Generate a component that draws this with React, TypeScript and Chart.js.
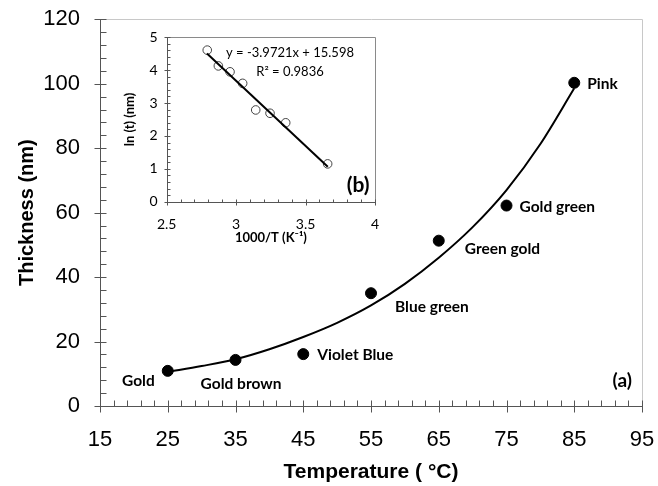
import React, { useEffect, useRef } from 'react';
import { Chart, registerables } from 'chart.js';
Chart.register(...registerables);

// ---- main chart data ----
const temperatures = [25, 35, 45, 55, 65, 75, 85];
const thickness = [10.9, 14.3, 16.1, 35.0, 51.3, 62.2, 100.3];
const colourNames = ['Gold', 'Gold brown', 'Violet Blue', 'Blue green', 'Green gold', 'Gold green', 'Pink'];
const fitTemps = [25, 30, 35, 40, 45, 50, 55, 60, 65, 70, 75, 80, 85];
const fitThickness = [10.6, 12.4, 14.5, 17.6, 21.4, 25.8, 31.2, 37.9, 46.0, 55.5, 67.0, 81.3, 98.6];
const xTickValues = [15, 25, 35, 45, 55, 65, 75, 85, 95];
const yTickValues = [0, 20, 40, 60, 80, 100, 120];

// ---- inset data ----
const invT = [2.792, 2.872, 2.956, 3.047, 3.141, 3.244, 3.357, 3.659];
const lnT = [4.61, 4.13, 3.95, 3.6, 2.79, 2.69, 2.4, 1.15];
const fitInvT = [2.79, 3.66];
const fitLnT = [4.51, 1.06];
const insetXTicks = [2.5, 3, 3.5, 4];
const insetYTicks = [0, 1, 2, 3, 4, 5];
const equationText = 'y = -3.9721x + 15.598';
const r2Text = 'R\u00B2 = 0.9836';

// label placement (styles, not data)
const labelOffsets = [
  { dx: -13, dy: 10, align: 'right' },
  { dx: 5.5, dy: 24, align: 'center' },
  { dx: 14, dy: 1, align: 'left' },
  { dx: 24, dy: 14, align: 'left' },
  { dx: 26, dy: 8, align: 'left' },
  { dx: 13, dy: 1, align: 'left' },
  { dx: 13, dy: 1, align: 'left' },
];

type AxOpts = {
  xMajor: number[]; yMajor: number[]; xMinorStep: number; yMinorStep: number;
  majorIn: number; majorOut: number; minorIn: number; axisColor: string; frameColor: string;
};

function makeAxesPlugin(o: AxOpts) {
  return {
    id: 'axesFrame',
    beforeDatasetsDraw(chart: any) {
      const { ctx, chartArea: a, scales } = chart;
      const xs = scales.x, ys = scales.y;
      ctx.save();
      ctx.lineWidth = 1;
      ctx.strokeStyle = o.frameColor;
      ctx.beginPath();
      ctx.moveTo(a.left, Math.round(a.top) + 0.5);
      ctx.lineTo(Math.round(a.right) + 0.5, Math.round(a.top) + 0.5);
      ctx.lineTo(Math.round(a.right) + 0.5, a.bottom);
      ctx.stroke();
      ctx.strokeStyle = o.axisColor;
      ctx.beginPath();
      const L = Math.round(a.left) + 0.5;
      const B = Math.round(a.bottom) + 0.5;
      ctx.moveTo(L, a.top);
      ctx.lineTo(L, B);
      ctx.lineTo(a.right + 1, B);
      const isMajor = (arr: number[], v: number) => arr.some((m) => Math.abs(m - v) < 1e-6);
      for (const v of o.xMajor) {
        const px = Math.round(xs.getPixelForValue(v)) + 0.5;
        ctx.moveTo(px, B - o.majorIn);
        ctx.lineTo(px, B + o.majorOut);
      }
      const nx = Math.round((xs.max - xs.min) / o.xMinorStep);
      for (let i = 0; i <= nx; i++) {
        const v = xs.min + i * o.xMinorStep;
        if (isMajor(o.xMajor, v)) continue;
        const px = Math.round(xs.getPixelForValue(v)) + 0.5;
        ctx.moveTo(px, B);
        ctx.lineTo(px, B - o.minorIn);
      }
      for (const v of o.yMajor) {
        const py = Math.round(ys.getPixelForValue(v)) + 0.5;
        ctx.moveTo(L - o.majorOut, py);
        ctx.lineTo(L + o.majorIn, py);
      }
      const ny = Math.round((ys.max - ys.min) / o.yMinorStep);
      for (let i = 0; i <= ny; i++) {
        const v = ys.min + i * o.yMinorStep;
        if (isMajor(o.yMajor, v)) continue;
        const py = Math.round(ys.getPixelForValue(v)) + 0.5;
        ctx.moveTo(L, py);
        ctx.lineTo(L + o.minorIn, py);
      }
      ctx.stroke();
      ctx.restore();
    },
  };
}

const mainLabelPlugin = {
  id: 'mainLabels',
  afterDatasetsDraw(chart: any) {
    const { ctx, chartArea: a } = chart;
    const meta = chart.getDatasetMeta(1);
    ctx.save();
    ctx.fillStyle = '#000';
    ctx.textBaseline = 'middle';
    ctx.font = 'bold 15.5px Lato';
    meta.data.forEach((el: any, i: number) => {
      const off = labelOffsets[i];
      ctx.textAlign = off.align;
      ctx.fillText(colourNames[i], el.x + off.dx, el.y + off.dy);
    });
    ctx.font = 'bold 19px Lato';
    ctx.textAlign = 'right';
    ctx.fillText('(a)', a.right - 10, a.bottom - 25);
    ctx.restore();
  },
};

const insetLabelPlugin = {
  id: 'insetLabels',
  beforeDraw(chart: any) {
    const { ctx, width, height } = chart;
    ctx.save();
    ctx.fillStyle = '#fff';
    ctx.fillRect(0, 0, width, height);
    ctx.restore();
  },
  afterDatasetsDraw(chart: any) {
    const { ctx, chartArea: a } = chart;
    ctx.save();
    ctx.fillStyle = '#000';
    ctx.textBaseline = 'middle';
    ctx.textAlign = 'center';
    ctx.font = '13px Lato';
    ctx.fillText(equationText, a.left + 123.3, a.top + 15.7);
    ctx.fillText(r2Text, a.left + 123.3, a.top + 34.7);
    ctx.font = 'bold 21px Lato';
    ctx.textAlign = 'right';
    ctx.fillText('(b)', a.right - 5.5, a.bottom - 16.7);
    ctx.restore();
  },
};

export default function App() {
  const mainRef = useRef<HTMLCanvasElement>(null);
  const insetRef = useRef<HTMLCanvasElement>(null);

  useEffect(() => {
    const tickFont = { family: 'Liberation Sans, Arial, sans-serif', size: 22 };
    const yTitleFont = { family: 'Liberation Sans, Arial, sans-serif', size: 20, weight: 'bold' as const, lineHeight: 1.2 };
    const xTitleFont = { family: 'Liberation Sans, Arial, sans-serif', size: 21, weight: 'bold' as const, lineHeight: 1.2 };
    const main = new Chart(mainRef.current!, {
      type: 'scatter',
      data: {
        datasets: [
          {
            type: 'line',
            data: fitTemps.map((t, i) => ({ x: t, y: fitThickness[i] })),
            borderColor: '#000',
            borderWidth: 2,
            pointRadius: 0,
            cubicInterpolationMode: 'monotone',
            fill: false,
          } as any,
          {
            type: 'scatter',
            data: temperatures.map((t, i) => ({ x: t, y: thickness[i] })),
            backgroundColor: '#000',
            borderColor: '#000',
            pointRadius: 5.5,
          },
        ],
      },
      options: {
        animation: false,
        responsive: false,
        devicePixelRatio: 1,
        layout: { padding: { left: 0, top: 19.3, right: 16, bottom: 0 } },
        plugins: { legend: { display: false }, tooltip: { enabled: false } },
        scales: {
          x: {
            type: 'linear',
            min: 15,
            max: 95,
            afterBuildTicks: (s: any) => { s.ticks = xTickValues.map((v) => ({ value: v })); },
            afterFit: (s: any) => { s.height = 80; },
            ticks: { font: tickFont, color: '#000', padding: 0, maxRotation: 0 },
            grid: { display: false, drawTicks: true, tickLength: 21 },
            border: { display: false },
            title: { display: true, text: 'Temperature ( \u00B0C)', font: xTitleFont, color: '#000', padding: { top: 0, bottom: 1 } },
          },
          y: {
            type: 'linear',
            min: 0,
            max: 120,
            afterBuildTicks: (s: any) => { s.ticks = yTickValues.map((v) => ({ value: v })); },
            afterFit: (s: any) => { s.width = 100; },
            ticks: { font: tickFont, color: '#000', padding: 0 },
            grid: { display: false, drawTicks: true, tickLength: 20 },
            border: { display: false },
            title: { display: true, text: 'Thickness (nm)', font: yTitleFont, color: '#000', padding: { top: 15, bottom: 0 } },
          },
        },
      },
      plugins: [
        makeAxesPlugin({ xMajor: xTickValues, yMajor: yTickValues, xMinorStep: 2, yMinorStep: 4, majorIn: 6, majorOut: 6, minorIn: 6, axisColor: '#555', frameColor: '#c8c8c8' }),
        mainLabelPlugin,
      ],
    } as any);

    const iTickFont = { family: 'Lato, sans-serif', size: 14 };
    const iTitleFont = { family: 'Lato, sans-serif', size: 13, weight: 'bold' as const, lineHeight: 1.2 };
    const inset = new Chart(insetRef.current!, {
      type: 'scatter',
      data: {
        datasets: [
          {
            type: 'line',
            data: fitInvT.map((v, i) => ({ x: v, y: fitLnT[i] })),
            borderColor: '#000',
            borderWidth: 2,
            pointRadius: 0,
            fill: false,
          } as any,
          {
            type: 'scatter',
            data: invT.map((v, i) => ({ x: v, y: lnT[i] })),
            backgroundColor: 'rgba(255,255,255,0)',
            borderColor: '#444',
            borderWidth: 1,
            pointRadius: 4.3,
          },
        ],
      },
      options: {
        animation: false,
        responsive: false,
        devicePixelRatio: 1,
        layout: { padding: { left: 0, top: 9.3, right: 8, bottom: 0 } },
        plugins: { legend: { display: false }, tooltip: { enabled: false } },
        scales: {
          x: {
            type: 'linear',
            min: 2.5,
            max: 4,
            afterBuildTicks: (s: any) => { s.ticks = insetXTicks.map((v) => ({ value: v })); },
            afterFit: (s: any) => { s.height = 48.3; },
            ticks: { font: iTickFont, color: '#000', padding: 0, maxRotation: 0, callback: (v: any) => String(v) },
            grid: { display: false, drawTicks: true, tickLength: 14 },
            border: { display: false },
            title: { display: true, text: '1000/T (K\u207B\u00B9)', font: iTitleFont, color: '#000', padding: { top: 0, bottom: 4 } },
          },
          y: {
            type: 'linear',
            min: 0,
            max: 5,
            afterBuildTicks: (s: any) => { s.ticks = insetYTicks.map((v) => ({ value: v })); },
            afterFit: (s: any) => { s.width = 48.7; },
            ticks: { font: iTickFont, color: '#000', padding: 0, callback: (v: any) => String(v) },
            grid: { display: false, drawTicks: true, tickLength: 9 },
            border: { display: false },
            title: { display: true, text: 'ln (t) (nm)', font: iTitleFont, color: '#000', padding: { top: 4.2, bottom: 0 } },
          },
        },
      },
      plugins: [
        insetLabelPlugin,
        makeAxesPlugin({ xMajor: insetXTicks, yMajor: insetYTicks, xMinorStep: 0.1, yMinorStep: 0.2, majorIn: 3, majorOut: 3, minorIn: 3, axisColor: '#555', frameColor: '#8a8a8a' }),
      ],
    } as any);

    return () => {
      main.destroy();
      inset.destroy();
    };
  }, []);

  return (
    <div style={{ position: 'fixed', left: 0, top: 0, width: 658, height: 486, background: '#fff' }}>
      <canvas ref={mainRef} width={658} height={486} style={{ position: 'absolute', left: 0, top: 0, width: 658, height: 486 }} />
      <canvas ref={insetRef} width={265} height={222} style={{ position: 'absolute', left: 118, top: 28, width: 265, height: 222 }} />
    </div>
  );
}
